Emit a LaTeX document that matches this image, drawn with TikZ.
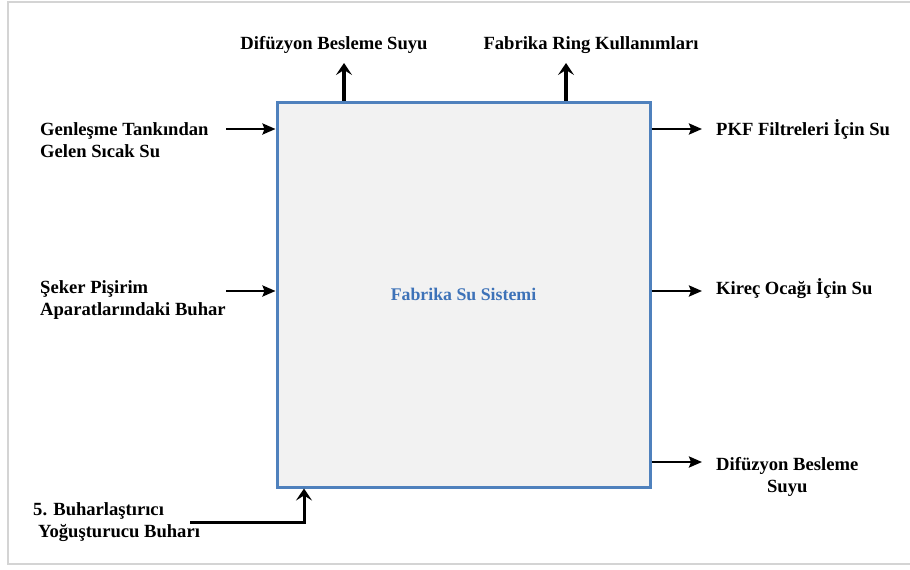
\documentclass[tikz,border=0pt]{standalone}
\usepackage{fontspec}
\setmainfont{Liberation Serif}
\usetikzlibrary{arrows.meta}
\definecolor{boxblue}{HTML}{4F81BD}
\definecolor{boxfill}{HTML}{F2F2F2}
\definecolor{labelblue}{HTML}{3D72B8}
\definecolor{framegray}{HTML}{D4D4D4}
\tikzset{
  lbl/.style={inner sep=0pt, font=\fontsize{18.6}{22}\selectfont\bfseries, text=black},
  sysbox/.style={draw=boxblue, line width=3pt, fill=boxfill, minimum width=373pt,
    minimum height=385pt, inner sep=0pt,
    font=\fontsize{17.8}{20}\selectfont\bfseries, text=labelblue},
  flowh/.style={line width=2.4pt, -{Stealth[length=13pt,width=11pt,inset=2pt]}},
  flowv/.style={line width=3.2pt, -{Stealth[length=12pt,width=16pt,inset=5pt]}},
}
\begin{document}
\begin{tikzpicture}[x=1pt,y=-1pt]
\useasboundingbox (0,0) rectangle (910,570);
% outer frame
\draw[framegray, line width=1.5pt] (912,2) -- (8,2) -- (8,564) -- (912,564);

% central system
\node[sysbox] (sys) at (463.5,294.5) {Fabrika Su Sistemi};

% upper outputs
\node[lbl] (topa) at (334,45) {Difüzyon Besleme Suyu};
\node[lbl] (topb) at (591,45) {Fabrika Ring Kullanımları};
\coordinate (ta) at (344,63);
\coordinate (tb) at (566,63);
\draw[flowv] (sys.north -| ta) -- (ta);
\draw[flowv] (sys.north -| tb) -- (tb);

% inputs on the left
\node[lbl, anchor=west, align=left] (ina) at (40,140) {Genleşme Tankından\\Gelen Sıcak Su};
\node[lbl, anchor=west, align=left] (inb) at (40,300) {Şeker Pişirim\\Aparatlarındaki Buhar};
\coordinate (ia) at (226,129);
\coordinate (ib) at (226,291);
\draw[flowh] (ia) -- (ia -| sys.west);
\draw[flowh] (ib) -- (ib -| sys.west);

% outputs on the right
\node[lbl, anchor=west] (outa) at (716,129) {PKF Filtreleri İçin Su};
\node[lbl, anchor=west] (outb) at (716,289) {Kireç Ocağı İçin Su};
\node[lbl, anchor=west, align=center] (outc) at (716,477) {Difüzyon Besleme\\Suyu};
\coordinate (oa) at (702,129);
\coordinate (ob) at (702,291);
\coordinate (oc) at (702,462);
\draw[flowh] (oa -| sys.east) -- (oa);
\draw[flowh] (ob -| sys.east) -- (ob);
\draw[flowh] (oc -| sys.east) -- (oc);

% input from below
\node[lbl, anchor=west, align=left] (inc) at (33,522) {5. Buharlaştırıcı\\\hspace*{5pt}Yoğuşturucu Buharı};
\coordinate (ba) at (190,522);
\coordinate (bb) at (304,522);
\draw[flowv, line width=3pt] (ba) -- (bb) -- (bb |- sys.south);
\end{tikzpicture}
\end{document}
